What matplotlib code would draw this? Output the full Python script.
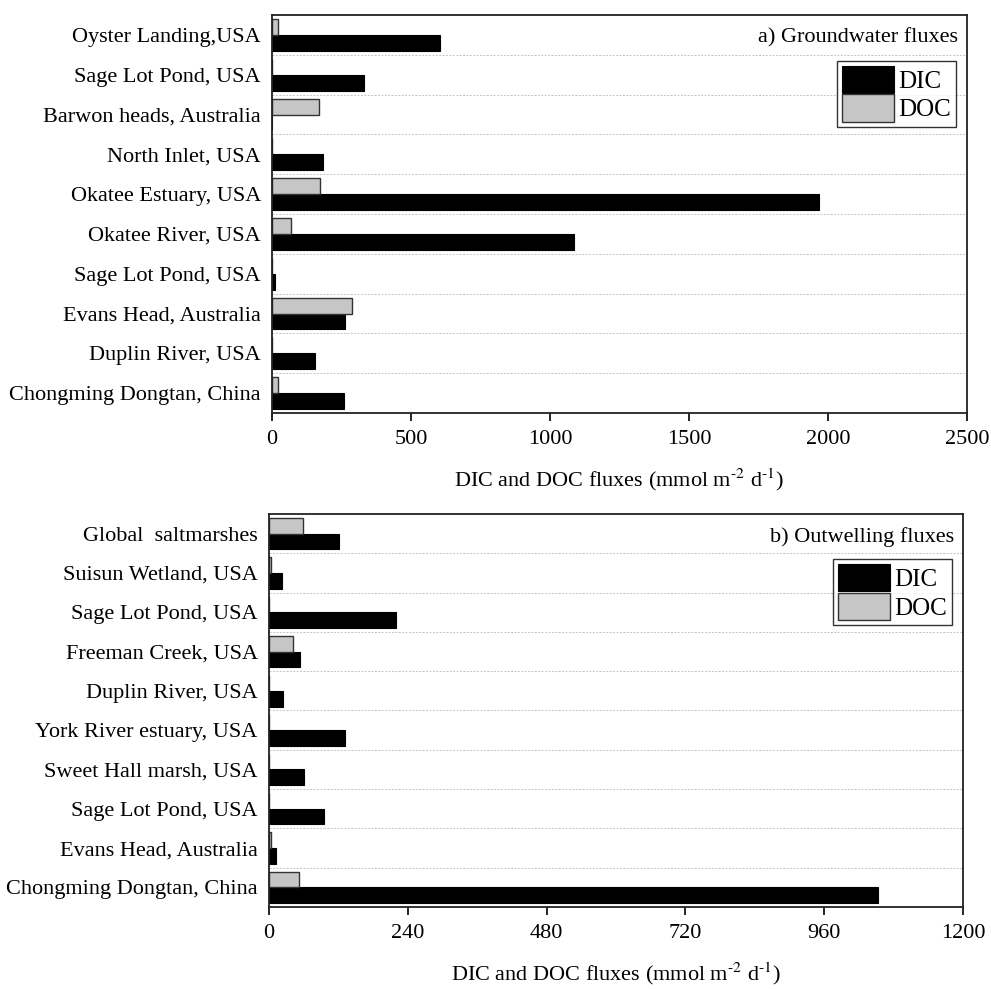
import numpy as np
import matplotlib
matplotlib.use('Agg')
import matplotlib.pyplot as plt

plt.rcParams['font.family'] = ['Liberation Serif', 'DejaVu Serif']
plt.rcParams['mathtext.fontset'] = 'stix'

# a) Groundwater fluxes
gw_sites = ['Oyster Landing,USA', 'Sage Lot Pond, USA', 'Barwon heads, Australia',
            'North Inlet, USA', 'Okatee Estuary, USA', 'Okatee River, USA',
            'Sage Lot Pond, USA', 'Evans Head, Australia', 'Duplin River, USA',
            'Chongming Dongtan, China']
gw_dic = [605, 330, 0, 183, 1968, 1085, 12, 263, 155, 258]
gw_doc = [20, 0, 168, 0, 174, 68, 0, 288, 0, 22]

# b) Outwelling fluxes
ow_sites = ['Global  saltmarshes', 'Suisun Wetland, USA', 'Sage Lot Pond, USA',
            'Freeman Creek, USA', 'Duplin River, USA', 'York River estuary, USA',
            'Sweet Hall marsh, USA', 'Sage Lot Pond, USA', 'Evans Head, Australia',
            'Chongming Dongtan, China']
ow_dic = [121, 23, 220, 53, 25, 131, 60, 95, 13, 1053]
ow_doc = [59, 3, 0, 41, 0, 0, 0, 0, 3, 52]

FS = 16

fig = plt.figure(figsize=(9.91, 9.89), dpi=100)
ax_a = fig.add_axes([0.2745, 0.5824, 0.7013, 0.4024])
ax_b = fig.add_axes([0.2714, 0.0829, 0.7004, 0.3974])


def draw_panel(ax, sites, dic, doc, xmax, xticks, title):
    y = np.arange(len(sites))
    ax.barh(y + 0.2, dic, height=0.4, color='black', edgecolor='black',
            linewidth=0.8, label='DIC')
    ax.barh(y - 0.2, doc, height=0.4, color='#c6c6c6', edgecolor='#333333',
            linewidth=1.0, label='DOC')
    ax.set_ylim(len(sites) - 0.5, -0.5)
    ax.set_yticks(y)
    ax.set_yticklabels(sites, fontsize=FS)
    ax.set_yticks(np.arange(0.5, len(sites) - 1, 1.0), minor=True)
    ax.tick_params(axis='y', which='both', length=0, pad=8)
    ax.grid(axis='y', which='minor', color='#c4c4c4', linestyle=(0, (2, 1.5)),
            linewidth=0.7)
    ax.set_xlim(0, xmax)
    ax.set_xticks(xticks)
    ax.tick_params(axis='x', labelsize=FS, length=6, width=1.2, direction='out', pad=6)
    ax.set_xlabel(r'DIC and DOC fluxes (mmol m$^{\text{-2}}$ d$^{\text{-1}}$)',
                  fontsize=FS, labelpad=13)
    for s in ax.spines.values():
        s.set_linewidth(1.3)
        s.set_color('#222222')
    ax.text(0.987, 0.942, title, transform=ax.transAxes, ha='right', va='center',
            fontsize=FS)
    leg = ax.legend(loc='upper right', bbox_to_anchor=(0.984, 0.885), fontsize=18,
                    frameon=True, fancybox=False, handlelength=2.1,
                    handleheight=1.3, handletextpad=0.15, labelspacing=0.05,
                    borderpad=0.2, borderaxespad=0)
    leg.get_frame().set_edgecolor('black')
    leg.get_frame().set_linewidth(1.0)


draw_panel(ax_a, gw_sites, gw_dic, gw_doc, 2500, [0, 500, 1000, 1500, 2000, 2500],
           'a) Groundwater fluxes')
draw_panel(ax_b, ow_sites, ow_dic, ow_doc, 1200, [0, 240, 480, 720, 960, 1200],
           'b) Outwelling fluxes')

fig.savefig('out.png', dpi=100)
